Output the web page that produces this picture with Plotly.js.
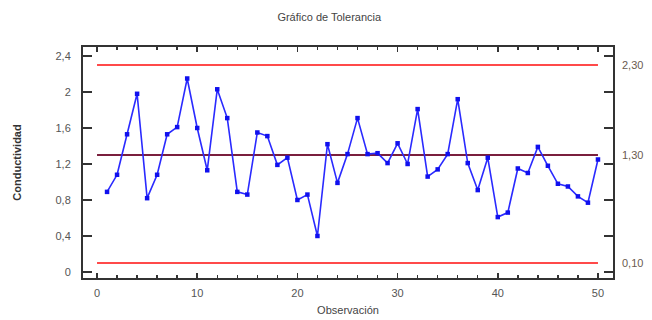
<!DOCTYPE html>
<html><head><meta charset="utf-8">
<script src="https://cdn.plot.ly/plotly-3.0.1.min.js"></script>
<style>html,body{margin:0;padding:0;background:#fff}#chart{width:652px;height:320px}</style>
</head><body><div id="chart"></div>
<script>
const observacion = Array.from({length:50},(_, i)=>i+1);
const conductividad = [0.89,1.08,1.53,1.98,0.82,1.08,1.53,1.61,2.15,1.60,
  1.13,2.03,1.71,0.89,0.86,1.55,1.51,1.19,1.27,0.80,
  0.86,0.40,1.42,0.99,1.31,1.71,1.31,1.32,1.21,1.43,
  1.20,1.81,1.06,1.14,1.31,1.92,1.21,0.91,1.27,0.61,
  0.66,1.15,1.10,1.39,1.18,0.98,0.95,0.84,0.77,1.25];
const limitX = [0, 50];
const upperLimit = 2.30, centerLine = 1.30, lowerLimit = 0.10;
const rightTickVals = [0.10, 1.30, 2.30];
const rightTickText = ['0,10','1,30','2,30'];

const font = {family:'Liberation Sans, Arial, sans-serif', size:11, color:'#555'};
const traces = [
  {x:limitX, y:[upperLimit,upperLimit], mode:'lines', line:{color:'#ff4a4a', width:2}, hoverinfo:'skip'},
  {x:limitX, y:[lowerLimit,lowerLimit], mode:'lines', line:{color:'#ff4a4a', width:2}, hoverinfo:'skip'},
  {x:limitX, y:[centerLine,centerLine], mode:'lines', line:{color:'#7a1f3d', width:2}, hoverinfo:'skip'},
  {x:observacion, y:conductividad, mode:'lines+markers', line:{color:'#2a2aff', width:1.6},
   marker:{color:'#1010ee', size:4.5, symbol:'square'}},
  {x:[0], y:[0], yaxis:'y2', mode:'markers', marker:{opacity:0}, hoverinfo:'skip'}
];
const layout = {
  width:652, height:320, showlegend:false,
  separators:',.',
  margin:{l:83, r:39, t:47, b:42},
  paper_bgcolor:'#fff', plot_bgcolor:'#fff',
  font:font,
  title:{text:'Gráfico de Tolerancia', x:0.505, xanchor:'center', y:0.945, yanchor:'middle',
         font:{family:'Liberation Sans, Arial, sans-serif', size:11, color:'#444'}},
  xaxis:{range:[-1.4,51.5], tickvals:[0,10,20,30,40,50], ticks:'inside', ticklen:5, tickwidth:1.5, tickcolor:'#333',
         minor:{dtick:2, ticks:'inside', ticklen:3, tickwidth:1.5, tickcolor:'#333'},
         mirror:'ticks', showline:true, linecolor:'#333', linewidth:2, showgrid:false, zeroline:false,
         ticklabelstandoff:4,
         tickfont:{size:11, color:'#555'},
         title:{text:'Observación', standoff:8, font:{size:11, color:'#444'}}},
  yaxis:{range:[-0.067,2.5], tickvals:[0,0.4,0.8,1.2,1.6,2,2.4], ticks:'inside', ticklen:9, tickwidth:1.5, tickcolor:'#333',
         mirror:'ticks', showline:true, linecolor:'#333', linewidth:2, showgrid:false, zeroline:false,
         ticklabelstandoff:8,
         tickfont:{size:11, color:'#555'},
         title:{text:'<b>Conductividad</b>', standoff:32, font:{size:11, color:'#333'}}},
  yaxis2:{overlaying:'y', side:'right', range:[-0.067,2.5], tickvals:rightTickVals, ticktext:rightTickText,
          ticks:'', ticklabelstandoff:8, showgrid:false, zeroline:false, showline:false, tickfont:{size:11, color:'#6a5a50'}}
};
Plotly.newPlot('chart', traces, layout, {displayModeBar:false, staticPlot:true});
</script></body></html>
